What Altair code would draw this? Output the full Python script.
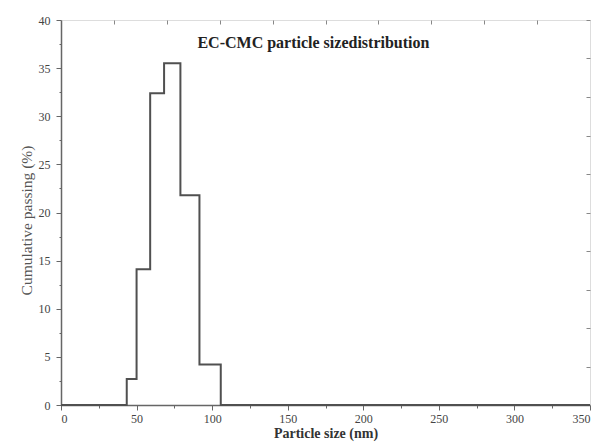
import altair as alt
import pandas as pd

# Step histogram (step-after: value holds until next edge)
bin_edges = [0, 43.5, 50.0, 59.0, 68.2, 79.0, 91.6, 105.7, 350]
passing = [0, 2.7, 14.1, 32.4, 35.5, 21.8, 4.2, 0, 0]

x_ticks_bottom = list(range(0, 351, 25))
y_ticks_left = [i * 2.5 for i in range(17)]
x_ticks_top = list(range(35, 316, 35))
y_ticks_right = list(range(0, 41, 4))

annotation_text = ["EC-CMC particle sizedistribution"]
annotation_x = [167]
annotation_y = [37.6]

df = pd.DataFrame({"size": bin_edges, "pct": passing})
ann = pd.DataFrame({"x": annotation_x, "y": annotation_y, "t": annotation_text})

FONT = "Liberation Serif"
FRAME = "#666666"

xs = alt.Scale(domain=[0, 350], nice=False, zero=False)
ys = alt.Scale(domain=[0, 40], nice=False, zero=False)

bottom_axis = alt.Axis(
    orient="bottom",
    values=x_ticks_bottom,
    labelExpr="datum.value % 50 === 0 ? datum.label : ''",
    tickSize={"condition": {"test": "datum.value % 50 === 0", "value": 5}, "value": 3},
    tickColor=FRAME,
    domainColor=FRAME,
    domainWidth=1.5,
    grid=False,
    labelFont=FONT,
    labelFontSize=12,
    labelColor="#444444",
    labelPadding=3,
    title="Particle size (nm)",
    titleFont=FONT,
    titleFontSize=14,
    titleFontWeight="bold",
    titleColor="#333333",
    titlePadding=2,
)

left_axis = alt.Axis(
    orient="left",
    values=y_ticks_left,
    labelExpr="datum.value % 5 === 0 ? datum.label : ''",
    tickSize={"condition": {"test": "datum.value % 5 === 0", "value": 5}, "value": 2},
    tickColor=FRAME,
    domainColor=FRAME,
    domainWidth=1.5,
    grid=False,
    labelFont=FONT,
    labelFontSize=12,
    labelColor="#444444",
    labelPadding=6,
    title="Cumulative passing (%)",
    titleFont=FONT,
    titleFontSize=15.5,
    titleFontWeight="normal",
    titleColor="#555555",
    titlePadding=4,
    titleY=200,
)

top_axis = alt.Axis(
    orient="top",
    values=x_ticks_top,
    labels=False,
    domain=False,
    grid=False,
    tickSize=4,
    offset=-4,
    tickColor="#888888",
    title=None,
)

right_axis = alt.Axis(
    orient="right",
    values=y_ticks_right,
    labels=False,
    domain=False,
    grid=False,
    tickSize=4,
    offset=-4,
    tickColor="#888888",
    title=None,
)

line = alt.Chart(df).mark_line(
    interpolate="step-after", color="#505050", strokeWidth=2
).encode(
    x=alt.X("size:Q", scale=xs, axis=bottom_axis),
    y=alt.Y("pct:Q", scale=ys, axis=left_axis),
)

frame_axes = alt.Chart(df).mark_line(opacity=0).encode(
    x=alt.X("size:Q", scale=xs, axis=top_axis),
    y=alt.Y("pct:Q", scale=ys, axis=right_axis),
)

label = alt.Chart(ann).mark_text(
    font=FONT, fontSize=16, fontWeight="bold", color="#222222",
    align="center", baseline="middle",
).encode(
    x=alt.X("x:Q", scale=xs, axis=None),
    y=alt.Y("y:Q", scale=ys, axis=None),
    text="t:N",
)

chart = (
    alt.layer(line, frame_axes, label)
    .resolve_axis(x="independent", y="independent")
    .properties(
        width=529,
        height=385,
        autosize="none",
        padding={"left": 61, "top": 20, "right": 7, "bottom": 37},
    )
    .configure_view(stroke=FRAME, strokeWidth=1.5)
    .configure(background="white")
)

chart.save("out.html", embed_options={"renderer": "svg", "actions": False})
